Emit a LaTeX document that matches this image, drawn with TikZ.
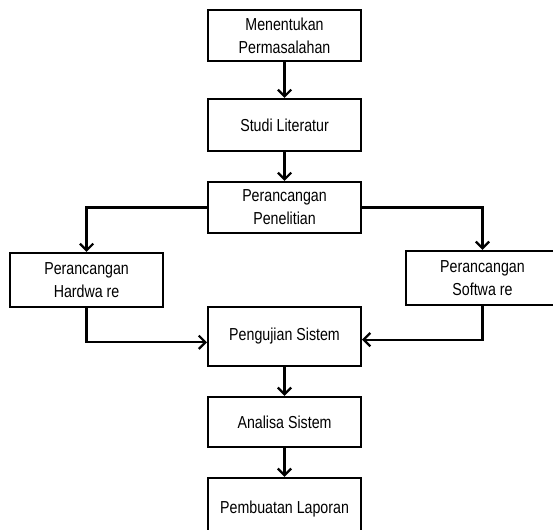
\documentclass[tikz,border=0pt]{standalone}
\usepackage{fontspec}
\setmainfont{Liberation Sans}[FakeStretch=0.82]
\usetikzlibrary{arrows.meta,positioning,calc}

\begin{document}
\begin{tikzpicture}[
  node distance=21.75pt and 32.25pt,
  blok/.style={draw, line width=1.7pt, minimum width=114.5pt, minimum height=38pt,
              align=center, inner sep=2pt,
              font=\fontsize{13pt}{17.25pt}\selectfont},
  ar/.style={-{Straight Barb[length=5pt,width=10pt]}, line width=1.7pt}
]
  \useasboundingbox (0,0) rectangle (414.75pt,-396.75pt);
  \clip (0,0) rectangle (414.75pt,-396.75pt);
  \node[blok] (masalah) at (213.4pt,-26.6pt) {Menentukan\\Permasalahan};
  \node[blok, below=27pt of masalah, minimum height=38.8pt] (studi) {Studi Literatur};
  \node[blok, below=of studi] (rancang) {Perancangan\\Penelitian};
  \node[blok, below left=13.5pt and 32.25pt of rancang, minimum height=40.3pt] (hw) {Perancangan\\Hardwa re};
  \node[blok, below right=12pt and 32.25pt of rancang, minimum height=40.3pt] (sw) {Perancangan\\Softwa re};
  \node[blok, below=54pt of rancang, minimum height=44pt] (uji) {Pengujian Sistem};
  \node[blok, below=of uji, minimum height=37.3pt] (analisa) {Analisa Sistem};
  \node[blok, below=of analisa, minimum height=46pt] (laporan) {Pembuatan Laporan};
  \draw[ar] (masalah) -- (studi);
  \draw[ar] (studi) -- (rancang);
  \draw[ar] (rancang.west) -| (hw.north);
  \draw[ar] (rancang.east) -| (sw.north);
  \draw[ar] (hw.south) |- ([yshift=-4.5pt]uji.west);
  \draw[ar] (sw.south) |- ([yshift=-2.5pt]uji.east);
  \draw[ar] (uji) -- (analisa);
  \draw[ar] (analisa) -- (laporan);
\end{tikzpicture}
\end{document}
